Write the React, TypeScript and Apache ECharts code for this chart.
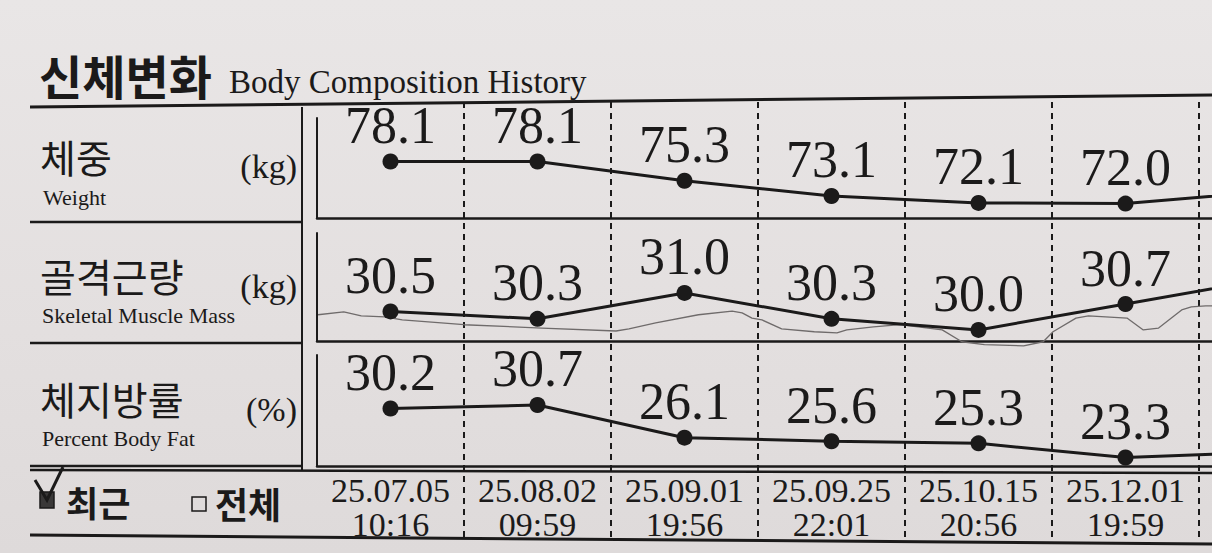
import React, { useEffect, useRef } from "react";
import * as echarts from "echarts";

// ---- data ----
const dates = [
  "25.07.05\n10:16",
  "25.08.02\n09:59",
  "25.09.01\n19:56",
  "25.09.25\n22:01",
  "25.10.15\n20:56",
  "25.12.01\n19:59",
];
const weight = [78.1, 78.1, 75.3, 73.1, 72.1, 72.0];
const skeletalMuscle = [30.5, 30.3, 31.0, 30.3, 30.0, 30.7];
const bodyFat = [30.2, 30.7, 26.1, 25.6, 25.3, 23.3];
// the next measurement lies beyond the right edge of the photo; only the line leaving the frame is visible
const nextWeight = 73.8;
const nextMuscle = 31.4;
const nextFat = 24.1;
// faint grey trace in the muscle panel (x in column units, y in kg)
const traceX = [0.007, 0.182, 0.301, 0.462, 0.58, 1.0, 1.531, 2.034, 2.122, 2.304, 2.595, 2.824, 2.892, 2.959, 3.027, 3.161, 3.383, 3.537, 3.604, 3.785, 3.966, 4.253, 4.387, 4.54, 4.807, 4.94, 5.007, 5.163, 5.248, 5.51, 5.621, 5.725, 5.882, 5.948, 6.046, 6.3];
const traceY = [30.41, 30.49, 30.38, 30.35, 30.27, 30.14, 30.05, 29.97, 30.03, 30.19, 30.41, 30.51, 30.46, 30.32, 30.27, 30.03, 29.95, 29.92, 30.0, 30.08, 30.14, 30.0, 29.68, 29.6, 29.57, 29.68, 29.95, 30.32, 30.38, 30.32, 30.0, 30.05, 30.54, 30.62, 30.65, 30.65];

const categories = [...dates, ""];

const SERIF = '"Liberation Serif", "Times New Roman", serif';
const KR = '"Noto Sans CJK KR", "Noto Sans CJK SC", sans-serif';
const INK = "#1b1a1a";

const COL_LEFT = 317;
const COL_W = 147;
const GRID_RIGHT = 1212 - COL_LEFT - COL_W * categories.length;

function withNext(vals: number[], next: number) {
  return [
    ...vals,
    { value: next, symbol: "none", label: { show: false } },
  ];
}

function txt(text: string, x: number, y: number, size: number, family: string, weight: string = "normal", align: string = "left") {
  return {
    type: "text",
    x,
    y,
    silent: true,
    style: {
      text,
      fontSize: size,
      lineHeight: size,
      fontFamily: family,
      fontWeight: weight,
      fill: INK,
      align,
      verticalAlign: "middle",
    },
  };
}

function ln(x1: number, y1: number, x2: number, y2: number, w: number) {
  return {
    type: "line",
    silent: true,
    shape: { x1, y1, x2, y2 },
    style: { stroke: INK, lineWidth: w },
  };
}

function lineSeries(name: string, idx: number, data: any[]) {
  return {
    name,
    type: "line",
    xAxisIndex: idx,
    yAxisIndex: idx,
    data,
    symbol: "circle",
    symbolSize: 16,
    z: 5,
    lineStyle: { color: INK, width: 3 },
    itemStyle: { color: INK },
    label: {
      show: true,
      position: "top",
      distance: 2,
      fontSize: 52,
      lineHeight: 52,
      fontFamily: SERIF,
      color: INK,
      formatter: (p: any) => Number(p.value).toFixed(1),
    },
  };
}

export default function App() {
  const ref = useRef<HTMLDivElement>(null);
  useEffect(() => {
    if (!ref.current) return;
    const chart = echarts.init(ref.current, undefined, { renderer: "svg" });

    const gridBase = { left: COL_LEFT, right: GRID_RIGHT, outerBoundsMode: "none", containLabel: false };
    const panelX = (show: boolean) => ({
      type: "category",
      data: categories,
      boundaryGap: true,
      axisLine: { show: true, lineStyle: { color: INK, width: 2.5 } },
      axisTick: { show: false },
      axisLabel: show
        ? {
            show: true,
            margin: 7,
            fontSize: 34,
            lineHeight: 34,
            fontFamily: SERIF,
            color: INK,
            interval: 0,
          }
        : { show: false },
      splitLine: { show: false },
    });
    const panelY = (min: number, max: number, gi: number) => ({
      type: "value",
      gridIndex: gi,
      min,
      max,
      axisLine: { show: true, lineStyle: { color: INK, width: 2 } },
      axisTick: { show: false },
      axisLabel: { show: false },
      splitLine: { show: false },
    });

    const option: any = {
      animation: false,
      backgroundColor: "transparent",
      grid: [
        { ...gridBase, top: 118, height: 100 },
        { ...gridBase, top: 233, height: 108 },
        { ...gridBase, top: 355, height: 111 },
        { ...gridBase, top: 102, height: 436 },
      ],
      xAxis: [
        { ...panelX(false), gridIndex: 0 },
        { ...panelX(false), gridIndex: 1 },
        { ...panelX(true), gridIndex: 2 },
        {
          type: "category",
          gridIndex: 3,
          data: categories,
          boundaryGap: true,
          axisLine: { show: false },
          axisTick: { show: false },
          axisLabel: { show: false },
          splitLine: {
            show: true,
            showMinLine: false,
            lineStyle: { color: INK, width: 2, type: [6, 5] },
          },
        },
        { type: "value", gridIndex: 1, min: 0, max: categories.length, show: false },
      ],
      yAxis: [
        panelY(69.91, 84.4, 0),
        panelY(29.7, 32.62, 1),
        panelY(22.11, 37.74, 2),
        { type: "value", gridIndex: 3, show: false, min: 0, max: 1 },
      ],
      series: [
        {
          name: "trace",
          type: "line",
          xAxisIndex: 4,
          yAxisIndex: 1,
          data: traceX.map((x, i) => [x, traceY[i]]),
          symbol: "none",
          clip: false,
          silent: true,
          z: 1,
          lineStyle: { color: "#6f6b6b", width: 1.3 },
        },
        lineSeries("체중", 0, withNext(weight, nextWeight)),
        lineSeries("골격근량", 1, withNext(skeletalMuscle, nextMuscle)),
        lineSeries("체지방률", 2, withNext(bodyFat, nextFat)),
      ],
      graphic: {
        elements: [
          txt("신체변화", 39, 74, 47, KR, "bold"),
          txt("Body Composition History", 229, 82, 33, SERIF),
          txt("체중", 40, 156, 39, KR),
          txt("Weight", 43, 197, 22, SERIF),
          txt("(kg)", 297, 166, 34, SERIF, "normal", "right"),
          txt("골격근량", 40, 275, 39, KR),
          txt("Skeletal Muscle Mass", 42, 315, 22, SERIF),
          txt("(kg)", 297, 286, 34, SERIF, "normal", "right"),
          txt("체지방률", 40, 398, 39, KR),
          txt("Percent Body Fat", 42, 438, 22, SERIF),
          txt("(%)", 297, 409, 34, SERIF, "normal", "right"),
          txt("최근", 66, 501, 35, KR, "bold"),
          txt("전체", 215, 503, 36, KR, "bold"),
          ln(30, 107, 1212, 95, 3),
          ln(302, 107, 302, 470, 2),
          ln(30, 222, 302, 222, 2.5),
          ln(30, 343, 302, 343, 2.5),
          ln(30, 466, 302, 466, 2.5),
          ln(30, 470, 1212, 473, 2.5),
          ln(30, 535, 1212, 544, 3),
          {
            type: "rect",
            silent: true,
            shape: { x: 40, y: 492, width: 14, height: 16 },
            style: { fill: "#3a3838", stroke: INK, lineWidth: 1.5 },
          },
          {
            type: "polyline",
            silent: true,
            shape: { points: [[35, 480], [47, 500], [63, 467]] },
            style: { stroke: INK, lineWidth: 3, fill: null },
          },
          {
            type: "rect",
            silent: true,
            shape: { x: 192, y: 497, width: 14, height: 14 },
            style: { fill: "none", stroke: INK, lineWidth: 1.5 },
          },
        ],
      },
    };
    chart.setOption(option);
    return () => chart.dispose();
  }, []);

  return (
    <div
      style={{
        position: "fixed",
        left: 0,
        top: 0,
        width: 1212,
        height: 553,
        background: "linear-gradient(180deg, #e9e6e6 0%, #e3dfdf 60%, #dedada 100%)",
      }}
    >
      <div ref={ref} style={{ width: 1212, height: 553 }} />
    </div>
  );
}
